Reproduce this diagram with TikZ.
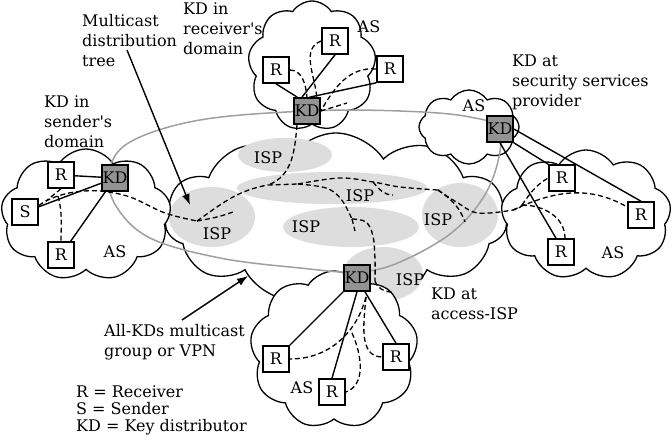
\documentclass[tikz,border=0pt]{standalone}
\usepackage{fontspec}
\setmainfont{DejaVu Serif}
\usetikzlibrary{shapes.symbols,arrows.meta,backgrounds}

\begin{document}
\begin{tikzpicture}[
    x=1pt, y=-1pt,
    every node/.style={font=\fontsize{16}{20}\selectfont},
    ascloud/.style={cloud, cloud puffs=#1, cloud puff arc=115, draw, line width=1.3pt, fill=white, inner sep=0pt},
    rbox/.style={draw, line width=1.6pt, fill=white, minimum size=26pt, inner sep=0pt},
    kdbox/.style={rbox, fill=gray!85},
    link/.style={line width=1.4pt},
    tree/.style={dash pattern=on 5pt off 3pt, line width=1.3pt},
    ring/.style={gray!75, line width=1.5pt},
    isp/.style={fill=gray!27},
    note/.style={align=left, anchor=north west, inner sep=0pt},
    pointer/.style={-{Latex[length=11pt,width=8pt]}, line width=1.4pt}
]
\useasboundingbox (0,0) rectangle (672,436);

% boxes
\node[rbox]  (sR1) at (61,175)  {R};
\node[rbox]  (sS)  at (25,212)  {S};
\node[rbox]  (sR2) at (61,255)  {R};
\node[kdbox] (sKD) at (115,178) {KD};

\node[rbox]  (rR1) at (276,70)  {R};
\node[rbox]  (rR2) at (335,41)  {R};
\node[rbox]  (rR3) at (390,69)  {R};
\node[kdbox] (rKD) at (307,111) {KD};

\node[kdbox] (pKD) at (500,129) {KD};
\node[rbox]  (aR1) at (562,178) {R};
\node[rbox]  (aR2) at (641,215) {R};
\node[rbox]  (aR3) at (561,252) {R};

\node[kdbox] (bKD) at (357,278) {KD};
\node[rbox]  (bR1) at (276,359) {R};
\node[rbox]  (bR2) at (396,357) {R};
\node[rbox]  (bR3) at (332,392) {R};

% tree junctions
\coordinate (sJ)  at (46,201);
\coordinate (sJ2) at (58,196);
\coordinate (j1)  at (197,221);
\coordinate (lStub) at (233,212);
\coordinate (jR)  at (268,185);
\coordinate (j2)  at (298,184);
\coordinate (jS)  at (373,182);
\coordinate (sStub) at (393,195);
\coordinate (j5)  at (438,190);
\coordinate (rtStub) at (465,222);
\coordinate (jA2) at (513,210);
\coordinate (jA)  at (522,205);
\coordinate (j3)  at (352,219);
\coordinate (mStub) at (355,231);
\coordinate (j4)  at (375,281);
\coordinate (bStub) at (392,292);
\coordinate (jB)  at (366,297);
\coordinate (jB2) at (352,333);
\coordinate (rStub) at (347,103);

\begin{scope}[on background layer]
% central cloud and ISPs
\node[ascloud=11, minimum width=342, minimum height=170] (core) at (336,218) {};
\fill[isp] (285,155) ellipse [x radius=47, y radius=17];
\fill[isp] (332,188) ellipse [x radius=95, y radius=16];
\fill[isp] (212,217) ellipse [x radius=43, y radius=30];
\fill[isp] (351,227) ellipse [x radius=68, y radius=20];
\fill[isp] (460,215) ellipse [x radius=38, y radius=32];
\fill[isp] (383,274) ellipse [x radius=40, y radius=27];

% AS clouds
\node[ascloud=9, minimum width=170, minimum height=132] (sendAS) at (86,215) {};
\node[ascloud=9, minimum width=128, minimum height=130] (recvAS) at (312,66) {};
\node[ascloud=8, minimum width=100, minimum height=74]  (provAS) at (469,127) {};
\node[ascloud=9, minimum width=170, minimum height=130] (rightAS) at (586,215) {};
\node[ascloud=9, minimum width=168, minimum height=158] (botAS) at (334,350) {};

% all-KDs group
\draw[ring] plot[smooth cycle, tension=.6] coordinates {(307,111) (400,111) (470,117) (500,132) (490,185) (455,230) (400,262) (357,272) (300,268) (220,258) (150,238) (116,206) (109,172) (130,142) (200,120)};

% multicast tree
\draw[tree] plot[smooth, tension=.6] coordinates {(sS.25) (sJ) (sJ2) (75,192) (100,191) (130,197) (165,213) (j1)};
\draw[tree] (sR1.south) -- (sJ);
\draw[tree] (sJ2) to[out=-75,in=90] (sR2.north);
\draw[tree] (j1) to[out=10,in=200] (lStub);
\draw[tree] (j1) to[out=35,in=190] (jR) -- (j2);
\draw[tree] ([xshift=-10pt]rKD.south) to[out=-95,in=20] (jR);
\draw[tree] plot[smooth, tension=.6] coordinates {(j2) (340,178) (jS) (400,187) (j5)};
\draw[tree] (jS) to[out=-50,in=180] (sStub);
\draw[tree] (j5) to[out=-35,in=110] (rtStub);
\draw[tree] plot[smooth, tension=.6] coordinates {(j5) (458,203) (478,213) (jA2) (jA)};
\draw[tree] (jA) to[out=0,in=90] ([xshift=4pt]aR3.north);
\draw[tree] (jA) to[out=55,in=210] (aR1.west);
\draw[tree] (jA2) to[out=25,in=150] (aR2.150);
\draw[tree] plot[smooth, tension=.6] coordinates {(j2) (326,188) (341,199) (j3)};
\draw[tree] (j3) -- (mStub);
\draw[tree] plot[smooth, tension=.6] coordinates {(j3) (366,222) (373,236) (375,260) (j4)};
\draw[tree] (j4) to[out=-70,in=180] (bStub);
\draw[tree] (jB) to[out=-105,in=0] (bR1.east);
\draw[tree] (jB2) .. controls (362,355) and (366,385) .. (bR3.east);
\draw[tree] (jB) to[out=-95,in=180] (bR2.west);
\draw[tree] (rR1.east) to[out=0,in=95] (rKD.north);
\draw[tree] (rR2.west) to[out=200,in=95] ([xshift=-4pt]rKD.north east);
\draw[tree] (rR3.west) to[out=175,in=60] (rKD.east);
\draw[tree] (rKD.east) -- (rStub);

% key distribution links
\draw[link] (sKD) -- (sR1);
\draw[link] (sKD) -- (sS);
\draw[link] (sKD) -- (sR2);
\draw[link] (rKD.125) -- (rR1.south);
\draw[link] (rKD.110) -- (rR2.south);
\draw[link] (rKD.80) -- (rR3.south west);
\draw[link] (pKD.east) -- (aR2.north);
\draw[link] (pKD.south east) -- (aR1.north west);
\draw[link] (pKD.south) -- (aR3.110);
\draw[link] (bKD.south west) -- (bR1.north east);
\draw[link] (bKD.south) -- (bR3.north);
\draw[link] (bKD.-60) -- (bR2.north);
\end{scope}

% AS labels
\node (sAS) at (115,252) {AS};
\node (rAS) at (369,27)  {AS};
\node (pAS) at (474,106) {AS};
\node (aAS) at (613,253) {AS};
\node (bAS) at (302,388) {AS};

% ISP labels
\node (ispTop) at (268,158) {ISP};
\node (ispLong) at (360,196) {ISP};
\node (ispLeft) at (217,234) {ISP};
\node (ispMid) at (306,227) {ISP};
\node (ispRight) at (438,220) {ISP};
\node (ispBot) at (410,280) {ISP};

% annotations
\node[note] (mdtLabel) at (82,14)   {Multicast\\distribution\\tree};
\node[note] (recvLabel) at (183,3)  {KD in\\receiver\textquotesingle s\\domain};
\node[note] (sendLabel) at (44,96)  {KD in\\sender\textquotesingle s\\domain};
\node[note] (provLabel) at (512,55) {KD at\\security services\\provider};
\node[note] (accLabel) at (431,288) {KD at\\access-ISP};
\node[note] (grpLabel) at (104,324) {All-KDs multicast\\group or VPN};
\node[note, font=\fontsize{16}{17}\selectfont] (legend) at (76,386) {R = Receiver\\S = Sender\\KD = Key distributor};

\coordinate (mdtTail) at (127,50);
\coordinate (mdtTip) at (190,205);
\coordinate (grpTail) at (182,320);
\coordinate (grpTip) at (248,276);
\draw[pointer] (mdtTail) -- (mdtTip);
\draw[pointer] (grpTail) -- (grpTip);
\end{tikzpicture}
\end{document}
